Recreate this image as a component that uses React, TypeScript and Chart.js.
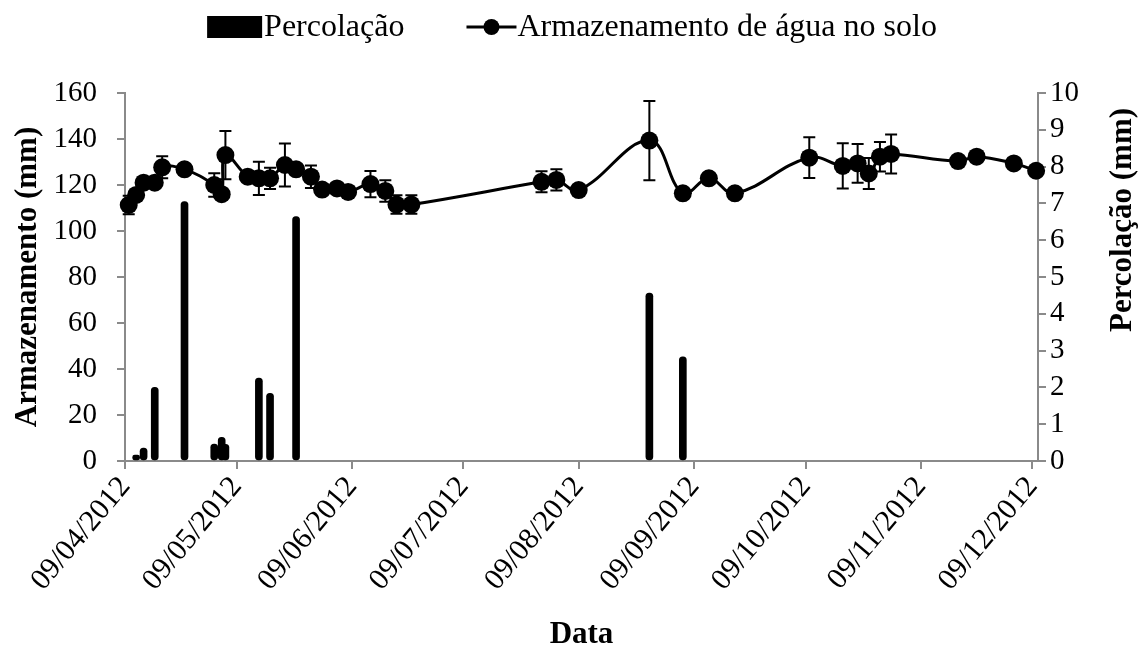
import React, { useEffect, useRef } from "react";
import { Chart, registerables } from "chart.js";

Chart.register(...registerables);

// x values are days counted from 09/04/2012
const tickDays = [0, 30, 61, 91, 122, 153, 183, 214, 244];
const tickLabels = [
  "09/04/2012",
  "09/05/2012",
  "09/06/2012",
  "09/07/2012",
  "09/08/2012",
  "09/09/2012",
  "09/10/2012",
  "09/11/2012",
  "09/12/2012",
];

const storageDays = [
  1, 3, 5, 8, 10, 16, 24, 26, 27, 33, 36, 39, 43, 46, 50, 53, 57, 60, 66, 70,
  73, 77, 112, 116, 122, 141, 150, 157, 164, 184, 193, 197, 200, 203, 206, 224,
  229, 239, 245,
];
const storage = [
  111.3, 115.7, 121, 121, 127.7, 126.8, 120, 116, 133, 123.6, 122.9, 122.9,
  128.7, 126.8, 123.6, 118, 118.5, 117, 120.4, 117.4, 111.5, 111.5, 121.4,
  122.2, 117.8, 139.3, 116.4, 122.9, 116.4, 131.9, 128.3, 129.4, 125, 132.3,
  133.5, 130.4, 132.3, 129.4, 126.2,
];
const storageErr = [
  4, 0, 0, 0, 4.8, 0, 5.1, 0, 10.5, 0, 7.2, 4.6, 9.3, 0, 4.9, 0, 0, 0, 5.7,
  4.7, 4, 4, 4.6, 4.6, 0, 17.2, 0, 0, 0, 8.9, 9.8, 8.4, 6.7, 6.4, 8.5, 0, 0, 0,
  0,
];

const percDays = [3, 5, 8, 16, 24, 26, 27, 36, 39, 46, 141, 150];
const percolation = [
  0.16, 0.35, 2.0, 7.05, 0.46, 0.64, 0.45, 2.25, 1.84, 6.64, 4.56, 2.83,
];

const legendLabels = ["Percolação", "Armazenamento de água no solo"];
const leftTitle = "Armazenamento (mm)";
const rightTitle = "Percolação (mm)";
const xTitle = "Data";

const FONT = "'Liberation Serif', 'Times New Roman', serif";
const AXIS_GRAY = "#8a8a8a";

export default function App() {
  const ref = useRef<HTMLCanvasElement>(null);

  useEffect(() => {
    const canvas = ref.current;
    if (!canvas) return;

    const errorBars = {
      id: "errorBars",
      afterDatasetsDraw(chart: any) {
        const ctx = chart.ctx;
        const xs = chart.scales.x;
        const ys = chart.scales.y;
        ctx.save();
        ctx.strokeStyle = "#000";
        ctx.lineWidth = 2;
        storageDays.forEach((d, i) => {
          const e = storageErr[i];
          if (!e) return;
          const px = xs.getPixelForValue(d);
          const top = ys.getPixelForValue(storage[i] + e);
          const bot = ys.getPixelForValue(storage[i] - e);
          ctx.beginPath();
          ctx.moveTo(px, top);
          ctx.lineTo(px, bot);
          ctx.moveTo(px - 6, top);
          ctx.lineTo(px + 6, top);
          ctx.moveTo(px - 6, bot);
          ctx.lineTo(px + 6, bot);
          ctx.stroke();
        });
        ctx.restore();
      },
    };

    const decor = {
      id: "decor",
      afterDraw(chart: any) {
        const ctx = chart.ctx;
        ctx.save();
        // legend
        ctx.font = `32px ${FONT}`;
        ctx.textBaseline = "middle";
        ctx.textAlign = "left";
        ctx.fillStyle = "#000";
        const w1 = ctx.measureText(legendLabels[0]).width;
        const w2 = ctx.measureText(legendLabels[1]).width;
        const total = 55 + 2 + w1 + 62 + 50 + 1 + w2;
        let x = 572 - total / 2;
        const ly = 27;
        ctx.fillRect(x, ly - 11, 55, 22);
        x += 57;
        ctx.fillText(legendLabels[0], x, ly + 1);
        x += w1 + 62;
        ctx.strokeStyle = "#000";
        ctx.lineWidth = 3;
        ctx.beginPath();
        ctx.moveTo(x, ly);
        ctx.lineTo(x + 50, ly);
        ctx.stroke();
        ctx.beginPath();
        ctx.arc(x + 25, ly, 8, 0, Math.PI * 2);
        ctx.fill();
        x += 51;
        ctx.fillText(legendLabels[1], x, ly + 1);

        // right axis title (reads bottom to top)
        ctx.font = `bold 31px ${FONT}`;
        ctx.textAlign = "center";
        ctx.translate(1123, 220);
        ctx.rotate(-Math.PI / 2);
        ctx.fillText(rightTitle, 0, 0);
        ctx.restore();
      },
    };

    const tickFont = { family: FONT, size: 29 };

    const chart = new Chart(canvas, {
      type: "bar",
      data: {
        datasets: [
          {
            type: "bar",
            label: legendLabels[0],
            data: percDays.map((d, i) => ({ x: d, y: percolation[i] })),
            yAxisID: "y1",
            backgroundColor: "#000",
            borderColor: "#000",
            barThickness: 7,
            borderRadius: 3.5,
            borderSkipped: false,
            order: 2,
          } as any,
          {
            type: "line",
            label: legendLabels[1],
            data: storageDays.map((d, i) => ({ x: d, y: storage[i] })),
            yAxisID: "y",
            borderColor: "#000",
            backgroundColor: "#000",
            borderWidth: 3,
            pointRadius: 9,
            pointBackgroundColor: "#000",
            pointBorderColor: "#000",
            pointBorderWidth: 0,
            tension: 0.4,
            clip: false,
            order: 1,
          } as any,
        ],
      },
      options: {
        animation: false,
        responsive: false,
        devicePixelRatio: 1,
        layout: { padding: { top: 93, left: 0, right: 0, bottom: 0 } },
        plugins: {
          legend: { display: false },
          tooltip: { enabled: false },
        },
        scales: {
          x: {
            type: "linear",
            min: 0,
            max: 245.5,
            offset: false,
            afterBuildTicks: (s: any) => {
              s.ticks = tickDays.map((v) => ({ value: v }));
            },
            afterFit: (s: any) => {
              s.height = 189;
            },
            ticks: {
              autoSkip: false,
              maxRotation: 50,
              minRotation: 50,
              padding: 1,
              color: "#000",
              font: { family: FONT, size: 30 },
              callback: (_v: any, i: number) => tickLabels[i],
            },
            grid: {
              display: true,
              drawOnChartArea: false,
              drawTicks: true,
              tickLength: 8,
              offset: false,
              color: AXIS_GRAY,
              lineWidth: 2,
            },
            border: { display: true, color: AXIS_GRAY, width: 2 },
            title: {
              display: true,
              text: xTitle,
              color: "#000",
              font: { family: FONT, size: 31, weight: "bold", lineHeight: 1 },
              padding: { top: 0, bottom: 0 },
            },
          },
          y: {
            type: "linear",
            position: "left",
            min: 0,
            max: 160,
            afterFit: (s: any) => {
              s.width = 125;
            },
            ticks: {
              stepSize: 20,
              autoSkip: false,
              padding: 20,
              color: "#000",
              font: tickFont,
            },
            grid: {
              display: true,
              drawOnChartArea: false,
              drawTicks: true,
              tickLength: 8,
              color: AXIS_GRAY,
              lineWidth: 2,
            },
            border: { display: true, color: AXIS_GRAY, width: 2 },
            title: {
              display: true,
              text: leftTitle,
              color: "#000",
              font: { family: FONT, size: 31, weight: "bold", lineHeight: 1 },
              padding: { top: 12, bottom: 0 },
            },
          },
          y1: {
            type: "linear",
            position: "right",
            min: 0,
            max: 10,
            afterFit: (s: any) => {
              s.width = 106;
            },
            ticks: {
              stepSize: 1,
              autoSkip: false,
              padding: 4,
              color: "#000",
              font: tickFont,
            },
            grid: {
              display: true,
              drawOnChartArea: false,
              drawTicks: true,
              tickLength: 8,
              color: AXIS_GRAY,
              lineWidth: 2,
            },
            border: { display: true, color: AXIS_GRAY, width: 2 },
          },
        },
      } as any,
      plugins: [errorBars, decor],
    });

    return () => chart.destroy();
  }, []);

  return (
    <div
      style={{
        position: "fixed",
        left: 0,
        top: 0,
        width: 1144,
        height: 650,
        background: "#fff",
      }}
    >
      <canvas
        ref={ref}
        width={1144}
        height={650}
        style={{ display: "block", width: 1144, height: 650 }}
      />
    </div>
  );
}
